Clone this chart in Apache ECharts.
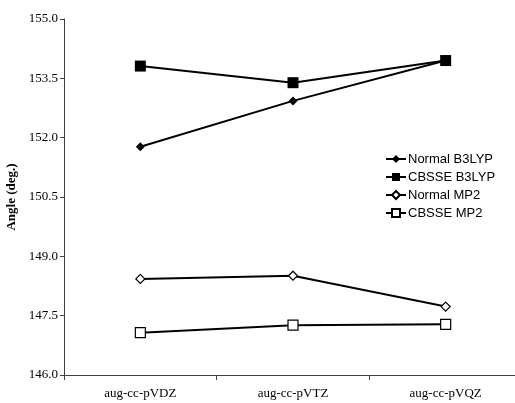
<!DOCTYPE html>
<html>
<head>
<meta charset="utf-8">
<script src="https://cdn.jsdelivr.net/npm/echarts@6/dist/echarts.min.js"></script>
<style>
  html, body { margin: 0; padding: 0; background: #fff; }
  #chart { width: 515px; height: 403px; }
</style>
</head>
<body>
<div id="chart"></div>
<script>
// Basis sets along the x axis
const basisSets = ['aug-cc-pVDZ', 'aug-cc-pVTZ', 'aug-cc-pVQZ'];

// Bond angle (degrees) for each method / correction
const normalB3LYP = [151.77, 152.93, 153.95];
const cbsseB3LYP = [153.81, 153.39, 153.95];
const normalMP2 = [148.43, 148.51, 147.73];
const cbsseMP2 = [147.07, 147.26, 147.28];

const yTicks = { min: 146.0, max: 155.0, step: 1.5 };

const serif = 'Liberation Serif, Times New Roman, serif';
const sans = 'Liberation Sans, Arial, sans-serif';
const diamond = 'path://M0,-1L1,0L0,1L-1,0Z';

function lineSeries(name, data, symbol, size, filled) {
  return {
    name: name,
    type: 'line',
    data: data,
    symbol: symbol,
    symbolSize: size,
    showAllSymbol: true,
    lineStyle: { color: '#000', width: 2 },
    itemStyle: {
      color: filled ? '#000' : '#fff',
      borderColor: '#000',
      borderWidth: filled ? 0 : 1.2
    },
    emphasis: { disabled: true },
    z: filled ? 3 : 4
  };
}

const chart = echarts.init(document.getElementById('chart'), null, { renderer: 'canvas' });
chart.setOption({
  animation: false,
  backgroundColor: '#fff',
  // the plot area runs a little past the right edge of the canvas
  grid: { left: 64, top: 19, width: 458, height: 356, containLabel: false, outerBoundsMode: 'none' },
  legend: {
    orient: 'vertical',
    left: 385,
    top: 152,
    padding: 0,
    itemWidth: 20,
    itemHeight: 10,
    itemGap: 4,
    textStyle: { fontFamily: sans, fontSize: 13, lineHeight: 14, color: '#000', padding: [0, 0, 0, -3] },
    data: ['Normal B3LYP', 'CBSSE B3LYP', 'Normal MP2', 'CBSSE MP2']
  },
  xAxis: {
    type: 'category',
    data: basisSets,
    boundaryGap: true,
    axisLine: { lineStyle: { color: '#404040', width: 1 } },
    axisTick: { show: true, length: 5, inside: false, lineStyle: { color: '#404040' } },
    axisLabel: { fontFamily: serif, fontSize: 13, color: '#000', margin: 12 },
    splitLine: { show: false }
  },
  yAxis: {
    type: 'value',
    min: yTicks.min,
    max: yTicks.max,
    interval: yTicks.step,
    name: 'Angle (deg.)',
    nameLocation: 'middle',
    nameGap: 39,
    nameRotate: 90,
    nameTextStyle: { fontFamily: serif, fontSize: 13, fontWeight: 'bold', color: '#000' },
    axisLine: { show: true, lineStyle: { color: '#404040', width: 1 } },
    axisTick: { show: true, length: 4, inside: false, lineStyle: { color: '#404040' } },
    axisLabel: {
      fontFamily: serif, fontSize: 13, color: '#000', margin: 6,
      formatter: v => v.toFixed(1)
    },
    splitLine: { show: false }
  },
  series: [
    lineSeries('Normal B3LYP', normalB3LYP, diamond, 9, true),
    lineSeries('CBSSE B3LYP', cbsseB3LYP, 'rect', 11, true),
    lineSeries('Normal MP2', normalMP2, diamond, 9, false),
    lineSeries('CBSSE MP2', cbsseMP2, 'rect', 10, false)
  ]
});
</script>
</body>
</html>
